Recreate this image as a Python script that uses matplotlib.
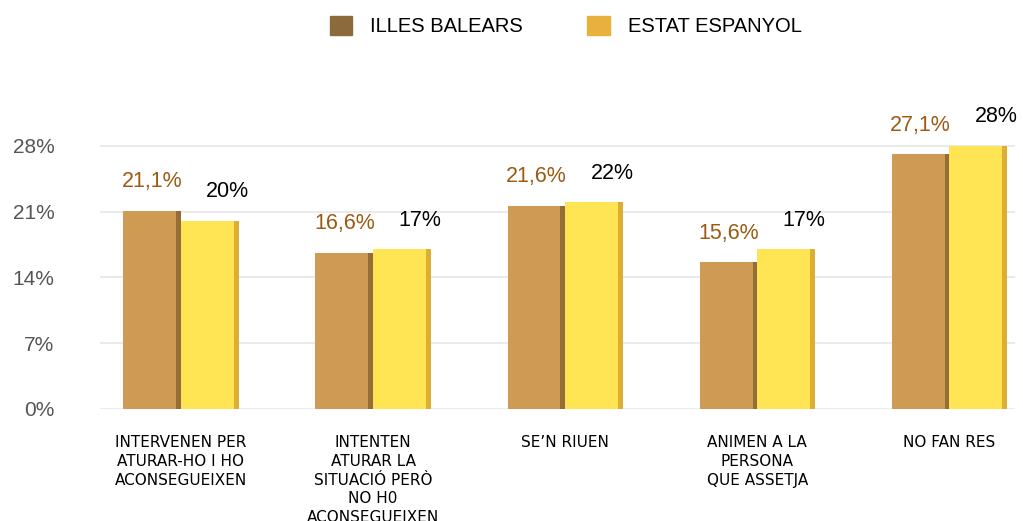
import matplotlib
matplotlib.use("Agg")
import matplotlib.pyplot as plt
from matplotlib.patches import Patch
import numpy as np

categories = [
    "INTERVENEN PER\nATURAR-HO I HO\nACONSEGUEIXEN",
    "INTENTEN\nATURAR LA\nSITUACIÓ PERÒ\nNO H0\nACONSEGUEIXEN",
    "SE\u2019N RIUEN",
    "ANIMEN A LA\nPERSONA\nQUE ASSETJA",
    "NO FAN RES",
]
illes_balears = [21.1, 16.6, 21.6, 15.6, 27.1]
estat_espanyol = [20, 17, 22, 17, 28]
ib_labels = ["21,1%", "16,6%", "21,6%", "15,6%", "27,1%"]
es_labels = ["20%", "17%", "22%", "17%", "28%"]
yticks = [0, 7, 14, 21, 28]
series_names = ["ILLES BALEARS", "ESTAT ESPANYOL"]

plt.rcParams['font.family'] = ['DejaVu Sans']

fig = plt.figure(figsize=(10.23, 5.21), dpi=100)
ax = fig.add_axes([0.098, 0.215, 0.894, 0.595])

x = np.arange(len(categories))
w = 0.30
ib_col, ib_dark = "#CF9A53", "#8A6633"
es_col, es_dark = "#FFE553", "#D9A42E"

ax.bar(x - w / 2, illes_balears, width=w, color=ib_col, zorder=2)
ax.bar(x + w / 2, estat_espanyol, width=w, color=es_col, zorder=2)
# 3D-like shaded right edges
sw = 0.025
ax.bar(x - sw / 2, illes_balears, width=sw, color=ib_dark, alpha=0.85, zorder=3)
ax.bar(x + w - sw / 2, estat_espanyol, width=sw, color=es_dark, alpha=0.85, zorder=3)

for xi, v, lab in zip(x, illes_balears, ib_labels):
    ax.annotate(lab, (xi - w / 2, v), xytext=(0, 21), textcoords="offset points",
                ha="center", va="center", color="#9C5A12", fontsize=15.5,
                family="Liberation Sans")
for xi, v, lab in zip(x, estat_espanyol, es_labels):
    ax.annotate(lab, (xi + w / 2, v), xytext=(13, 21), textcoords="offset points",
                ha="center", va="center", color="black", fontsize=15.5,
                family="Liberation Sans")

ax.set_ylim(0, 33)
ax.set_xlim(-0.42, 4.34)
ax.set_yticks(yticks)
ax.set_yticklabels([f"{t}%" for t in yticks], fontsize=15, color="#555555",
                   family="Liberation Sans")
ax.tick_params(axis="y", length=0, pad=33)
ax.set_xticks([])
ax.grid(axis="y", color="#E6E6E6", linewidth=1.2, zorder=0)
for s in ax.spines.values():
    s.set_visible(False)

for xi, cat in zip(x, categories):
    ax.annotate(cat, (xi, 0), xytext=(0, -19), textcoords="offset points",
                ha="center", va="top", fontsize=11, linespacing=1.3,
                color="black", annotation_clip=False)

handles = [Patch(color="#8C6A3C"), Patch(color="#E8B03C")]
fig.legend(handles, series_names, loc="center", bbox_to_anchor=(0.553, 0.95),
           ncol=2, frameon=False, handlelength=1.1, handleheight=1.1,
           handletextpad=0.9, columnspacing=3.2,
           prop={"family": "Liberation Sans", "size": 14.5})

fig.savefig("out.png", dpi=100)
